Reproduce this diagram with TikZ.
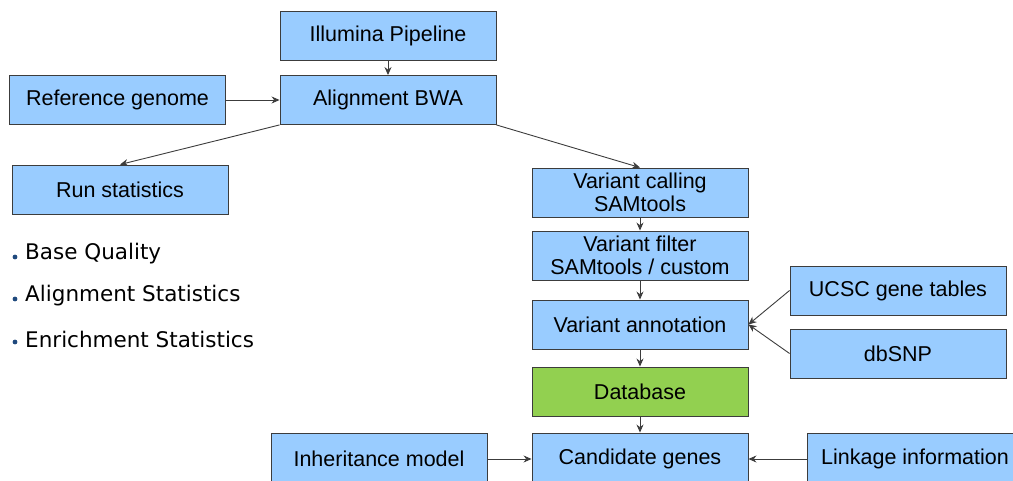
\documentclass[tikz,border=0pt]{standalone}
\usepackage{fontspec}
\setmainfont{Liberation Sans}
\newfontfamily\bulletfont{DejaVu Sans}
\usepackage{xcolor}
\usetikzlibrary{arrows.meta,positioning,calc}
\definecolor{boxblue}{RGB}{153,204,255}
\definecolor{dbgreen}{RGB}{146,208,80}
\definecolor{edgegray}{RGB}{60,60,60}
\definecolor{dotblue}{RGB}{31,73,125}

\begin{document}
\begin{tikzpicture}[
    x=1pt, y=-1pt,
    stage/.style={rectangle, draw=edgegray, line width=0.9pt, fill=boxblue, minimum width=216pt, minimum height=49pt, align=center, inner sep=0pt, font=\fontsize{21.5}{23.5}\selectfont},
    store/.style={stage, fill=dbgreen},
    flow/.style={-{Stealth[length=8pt,width=7pt]}, draw=edgegray, line width=0.9pt},
    point/.style={anchor=west, inner sep=0pt, font=\bulletfont\fontsize{21.5}{22}\selectfont}
]
    \useasboundingbox (0,0) rectangle (1013,481);

    % pipeline boxes
    \node[stage] (illumina) at (388,35.5) {Illumina Pipeline};
    \node[stage] (bwa) at (388,100) {Alignment BWA};
    \node[stage] (refgen) at (117.5,100) {Reference genome};
    \node[stage] (runstats) at (120,189.5) {Run statistics};
    \node[stage] (calling) at (640,192.5) {Variant calling\\SAMtools};
    \node[stage] (filter) at (640,255.5) {Variant filter\\SAMtools / custom};
    \node[stage] (annot) at (640,324.5) {Variant annotation};
    \node[stage] (ucsc) at (898,290.5) {UCSC gene tables};
    \node[stage] (dbsnp) at (898,353.5) {dbSNP};
    \node[store] (database) at (640,391.5) {Database};
    \node[stage, minimum height=52pt] (candidate) at (640,459) {Candidate genes};
    \node[stage, minimum height=52pt] (inherit) at (379,459) {Inheritance model};
    \node[stage, minimum height=52pt] (linkage) at (915,459) {Linkage information};

    % run statistics items
    \node[point] (basequal) at (25,254) {Base Quality};
    \node[point] (alnstats) at (25,296) {Alignment Statistics};
    \node[point] (enrstats) at (25,339) {Enrichment Statistics};
    \foreach \item in {basequal,alnstats,enrstats}
        \fill[dotblue] ($(\item.west)+(-10,3)$) circle (2.4pt);

    % connectors
    \draw[flow] (illumina) -- (bwa);
    \draw[flow] (refgen) -- (bwa);
    \draw[flow] (bwa.south west) -- (runstats.north);
    \draw[flow] (bwa.south east) -- (calling.north);
    \draw[flow] (calling) -- (filter);
    \draw[flow] (filter) -- (annot);
    \draw[flow] (ucsc.west) -- (annot.east);
    \draw[flow] (dbsnp.west) -- (annot.east);
    \draw[flow] (annot) -- (database);
    \draw[flow] (database) -- (candidate.north);
    \draw[flow] (inherit.east) -- (candidate.west);
    \draw[flow] (linkage.west) -- (candidate.east);
\end{tikzpicture}
\end{document}
